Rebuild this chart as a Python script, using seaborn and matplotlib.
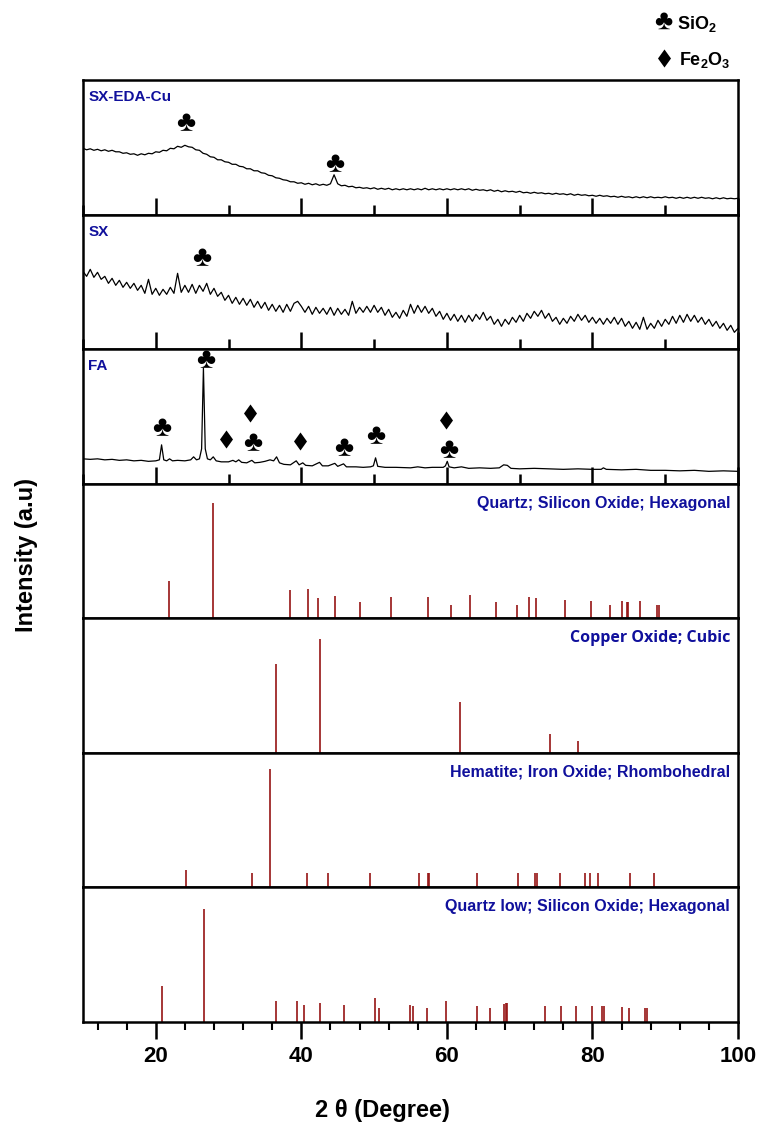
import numpy as np
import matplotlib
matplotlib.use("Agg")
import matplotlib.pyplot as plt
import seaborn as sns
from matplotlib.lines import Line2D
from matplotlib.ticker import MultipleLocator

# 2-theta grid of the measured patterns (0.5 deg steps)
two_theta = np.linspace(10, 100, 181)

# SX-EDA-Cu pattern (height above panel floor), one row = 5 deg
eda_cu = [66.5, 65, 66, 64.5, 65.5, 64, 65, 63.5, 64.5, 63,
          63, 61.5, 62, 60.5, 61, 59.5, 61, 60, 61.5, 61,
          63, 62.5, 64.5, 64, 66.5, 66, 68.5, 67.5, 69.5, 68,
          67.5, 65, 64.5, 61.5, 60.5, 58, 57.5, 55, 55, 53,
          52.5, 50.5, 50.5, 48.5, 48, 46, 46, 44, 44, 42,
          41.5, 39.5, 39, 37, 36.5, 35, 34.5, 33, 33, 31.5,
          32, 30.5, 31.5, 30, 31, 29.5, 30.5, 29.5, 31, 40,
          31, 29, 29.5, 28, 28.5, 27, 27.5, 26.5, 27, 26,
          27, 25.5, 26.5, 25.5, 26.5, 25, 26, 25, 26, 25,
          26, 25, 26, 25, 26.5, 25, 26, 25, 26, 25,
          26, 25, 26, 25, 26, 25, 26, 24.5, 25.5, 24.5,
          25, 24, 25, 23.5, 24.5, 23, 24, 23, 23.5, 22.5,
          23.5, 22, 22.5, 21.5, 22.5, 21.5, 22, 21, 21.5, 20.5,
          21.5, 20.5, 21, 20, 21, 19.5, 20.5, 19.5, 20, 19,
          19.5, 18.5, 19.5, 18.5, 19, 18, 18.5, 17.5, 18.5, 17.5,
          18, 17, 18, 17, 18, 17, 18, 17, 17.5, 17,
          18, 17, 17.5, 16.5, 17.5, 16.5, 17.5, 16.5, 17.5, 16.5,
          17.5, 16.5, 17, 16, 17, 16, 17, 16, 16.5, 16,
          16.5]

# SX pattern (height above panel floor), one row = 10 deg
sx = [78, 73, 80, 72, 77, 70, 73, 66, 71, 64, 69, 62, 67, 61, 66, 59, 64, 56, 70, 55,
      61, 54, 60, 55, 62, 56, 76, 57, 64, 57, 65, 56, 64, 58, 66, 55, 61, 53, 57, 49,
      54, 46, 52, 45, 51, 44, 50, 42, 48, 41, 47, 39, 45, 38, 44, 37, 45, 38, 46, 48,
      43, 37, 43, 35, 42, 36, 41, 35, 42, 34, 41, 35, 40, 34, 48, 36, 42, 37, 43, 37,
      44, 37, 42, 34, 40, 32, 37, 31, 39, 33, 45, 36, 44, 37, 43, 36, 41, 33, 38, 30,
      36, 29, 35, 28, 34, 27, 34, 28, 35, 30, 37, 29, 33, 25, 30, 23, 30, 25, 32, 27,
      34, 28, 36, 31, 38, 33, 39, 31, 36, 28, 32, 25, 31, 26, 33, 28, 35, 29, 34, 27,
      32, 26, 31, 25, 31, 26, 32, 25, 31, 23, 28, 21, 27, 20, 32, 20, 26, 21, 29, 23,
      30, 25, 33, 26, 34, 27, 35, 28, 34, 27, 32, 25, 30, 23, 28, 21, 26, 19, 24, 17, 21]

# FA pattern, read point by point
fa_two_theta = [10, 11, 12, 13, 14, 15, 16, 17, 18, 19, 20, 20.5, 20.8, 21.1, 21.5, 21.9, 22.3, 23, 24,
                24.8, 25.2, 25.6, 26.0, 26.3, 26.55, 26.8, 27.1, 27.5, 27.9, 28.3, 29, 30, 30.6, 31,
                31.4, 31.8, 32.5, 33.2, 33.6, 34.3, 35, 35.7, 36.2, 36.6, 37, 37.6, 38.5, 39.3, 39.7,
                40.2, 40.6, 41.5, 42.5, 42.9, 43.7, 44.6, 45, 45.8, 46.2, 47.5, 48.5, 49.5, 49.9, 50.2,
                50.5, 51.5, 53, 55, 56, 57, 58, 59.5, 59.8, 60.05, 60.3, 61, 62, 63, 64.5, 66, 67.2,
                67.8, 68.3, 68.8, 70, 72, 74, 76, 78, 80, 81.2, 81.5, 81.9, 84, 86, 88, 90, 92, 94,
                96, 98, 100]
fa_intensity = [25, 24.5, 25, 24, 24.5, 23.5, 24, 23, 23.5, 22.5, 23, 24, 39, 24, 23, 25, 23, 23.5, 23,
                24, 27, 24, 25, 35, 116, 35, 25, 24, 27, 23, 22, 22, 23.5, 22,
                24, 21.5, 21, 23.5, 21, 21.5, 22.5, 24, 23, 27, 21, 19.5, 19, 23, 19,
                21, 18.5, 18, 21.5, 18, 18, 20.5, 17.5, 20, 17, 17, 16.5, 17, 18, 26,
                17.5, 16.5, 16.5, 16, 17, 16, 16.5, 16.5, 18, 22.5, 17, 16, 17, 15.5, 16, 15.5, 16,
                19, 18.5, 15.5, 15, 15.5, 15, 14.5, 15, 14.5, 14.5, 16, 14.5, 14, 14.5, 13.5, 13.5, 13, 13.5,
                12.5, 13, 12.5]

# reference sticks (2-theta, relative intensity)
quartz_pos = [21.87, 27.87, 38.42, 40.93, 42.28, 44.6, 48.0, 52.3, 57.4, 60.5, 63.2, 66.8, 69.6, 71.3,
              72.2, 76.2, 79.8, 82.4, 84.0, 84.7, 84.9, 86.6, 88.8, 89.1]
quartz_int = [0.28, 0.86, 0.21, 0.22, 0.15, 0.165, 0.12, 0.16, 0.16, 0.10, 0.17, 0.12, 0.10, 0.16,
              0.15, 0.14, 0.13, 0.10, 0.13, 0.12, 0.12, 0.13, 0.10, 0.10]
cuo_pos = [36.58, 42.6, 61.8, 74.2, 78.0]
cuo_int = [0.66, 0.85, 0.38, 0.14, 0.09]
hematite_pos = [24.1, 33.2, 35.66, 40.8, 43.6, 49.5, 56.2, 57.4, 57.6, 64.1, 69.8, 72.1, 72.4, 75.6,
                79.0, 79.7, 80.8, 85.2, 88.4]
hematite_int = [0.13, 0.11, 0.88, 0.11, 0.11, 0.11, 0.11, 0.11, 0.11, 0.11, 0.11, 0.11, 0.11, 0.11,
                0.11, 0.11, 0.11, 0.11, 0.11]
quartz_low_pos = [20.88, 26.6, 36.58, 39.4, 40.3, 42.5, 45.8, 50.1, 50.7, 54.9, 55.3, 57.2, 59.9, 64.1,
                  65.9, 67.8, 68.1, 68.3, 73.5, 75.7, 77.8, 80.0, 81.3, 81.6, 84.0, 85.0, 87.2, 87.5]
quartz_low_int = [0.27, 0.84, 0.156, 0.156, 0.127, 0.14, 0.127, 0.18, 0.107, 0.127, 0.12, 0.107, 0.156,
                  0.12, 0.107, 0.13, 0.14, 0.14, 0.12, 0.12, 0.12, 0.12, 0.12, 0.12, 0.11, 0.107, 0.107,
                  0.107]

# phase markers (2-theta, height, phase)
eda_marks = [(24.1, 92, "SiO2"), (44.6, 51, "SiO2")]
sx_marks = [(26.3, 91, "SiO2")]
fa_marks = [(20.8, 56, "SiO2"), (26.9, 124, "SiO2"), (29.6, 45, "Fe2O3"), (32.9, 71, "Fe2O3"),
            (33.3, 41, "SiO2"), (39.8, 43, "Fe2O3"), (45.8, 36, "SiO2"), (50.2, 48, "SiO2"),
            (59.9, 64, "Fe2O3"), (60.3, 34, "SiO2")]

sns.set_theme(style="ticks")
plt.rcParams["font.family"] = ["Liberation Sans", "DejaVu Sans"]
plt.rcParams["mathtext.default"] = "regular"
plt.rcParams["text.color"] = "black"
plt.rcParams["xtick.color"] = "black"
plt.rcParams["axes.labelcolor"] = "black"

BLUE = "#10109c"
STICK = "#961414"
PH = 134.6
# rhombus a bit wider than matplotlib's thin diamond
DIAMOND = [(0, 1), (0.72, 0), (0, -1), (-0.72, 0), (0, 1)]
DIAMOND_MS = 13

fig, axes = plt.subplots(7, 1, figsize=(7.64, 11.3), dpi=100,
                         gridspec_kw={"hspace": 0})
fig.subplots_adjust(left=0.1086, right=0.966, top=0.929, bottom=0.0956)

traces = [(two_theta, eda_cu, "SX-EDA-Cu", eda_marks),
          (two_theta, sx, "SX", sx_marks),
          (fa_two_theta, fa_intensity, "FA", fa_marks)]
for ax, (xs, ys, name, marks) in zip(axes[:3], traces):
    sns.lineplot(x=xs, y=ys, ax=ax, color="black", lw=0.9, estimator=None, sort=False)
    ax.set_ylim(0, PH)
    ax.text(0.008, 1 - 17 / PH, name, transform=ax.transAxes, color=BLUE,
            fontsize=11, fontweight="bold", va="center", ha="left")
    for mx, my, phase in marks:
        if phase == "SiO2":
            ax.text(mx, my, "♣", fontsize=21, ha="center", va="center", color="black")
        else:
            ax.plot([mx], [my], marker=DIAMOND, ms=DIAMOND_MS, mew=0, color="black",
                    clip_on=False)
    ax.xaxis.set_major_locator(MultipleLocator(20))
    ax.xaxis.set_minor_locator(MultipleLocator(10))
    ax.tick_params(axis="x", which="major", direction="in", length=12, width=1.8,
                   bottom=True, top=False, labelbottom=False)
    ax.tick_params(axis="x", which="minor", direction="in", length=7, width=1.8,
                   bottom=True, top=False)

sticks = [(quartz_pos, quartz_int, "Quartz; Silicon Oxide; Hexagonal", "Liberation Sans"),
          (cuo_pos, cuo_int, "Copper Oxide; Cubic", "Open Sans"),
          (hematite_pos, hematite_int, "Hematite; Iron Oxide; Rhombohedral", "Liberation Sans"),
          (quartz_low_pos, quartz_low_int, "Quartz low; Silicon Oxide; Hexagonal", "Liberation Sans")]
for ax, (pos, inten, name, fam) in zip(axes[3:], sticks):
    ax.vlines(pos, 0, inten, color=STICK, lw=1.2)
    ax.set_ylim(0, 1)
    ax.text(0.988, 0.855, name, transform=ax.transAxes, color=BLUE, fontsize=11.5,
            fontweight="bold", ha="right", va="center", family=[fam, "DejaVu Sans"])
    ax.tick_params(axis="x", which="both", bottom=False, top=False, labelbottom=False)

for ax in axes:
    ax.set_xlim(10, 100)
    ax.set_yticks([])
    ax.set_ylabel("")
    for sp in ax.spines.values():
        sp.set_visible(True)
        sp.set_linewidth(1.8)
        sp.set_color("black")

bot = axes[-1]
bot.xaxis.set_major_locator(MultipleLocator(20))
bot.xaxis.set_minor_locator(MultipleLocator(4))
bot.tick_params(axis="x", which="major", direction="out", length=12, width=1.8,
                bottom=True, labelbottom=True, labelsize=16, pad=5)
bot.tick_params(axis="x", which="minor", direction="out", length=6, width=1.5, bottom=True)
for lab in bot.get_xticklabels():
    lab.set_fontweight("bold")

fig.text(0.5, 1 - 1111 / 1130, "2 θ (Degree)", ha="center", va="center",
         fontsize=17, fontweight="bold")
fig.text(27 / 764, 1 - 555 / 1130, "Intensity (a.u)", ha="center", va="center",
         rotation=90, fontsize=17, fontweight="bold")

# phase legend
fig.text(663 / 764, 1 - 22 / 1130, "♣", ha="center", va="center", fontsize=20)
fig.text(677 / 764, 1 - 24 / 1130, "SiO$_2$", ha="left", va="center", fontsize=13,
         fontweight="bold")
fig.add_artist(Line2D([664 / 764], [1 - 58 / 1130], marker=DIAMOND, ms=DIAMOND_MS, mew=0,
                      color="black", transform=fig.transFigure))
fig.text(679 / 764, 1 - 60 / 1130, "Fe$_2$O$_3$", ha="left", va="center", fontsize=13,
         fontweight="bold")

fig.savefig("out.png", dpi=100, facecolor="white")
